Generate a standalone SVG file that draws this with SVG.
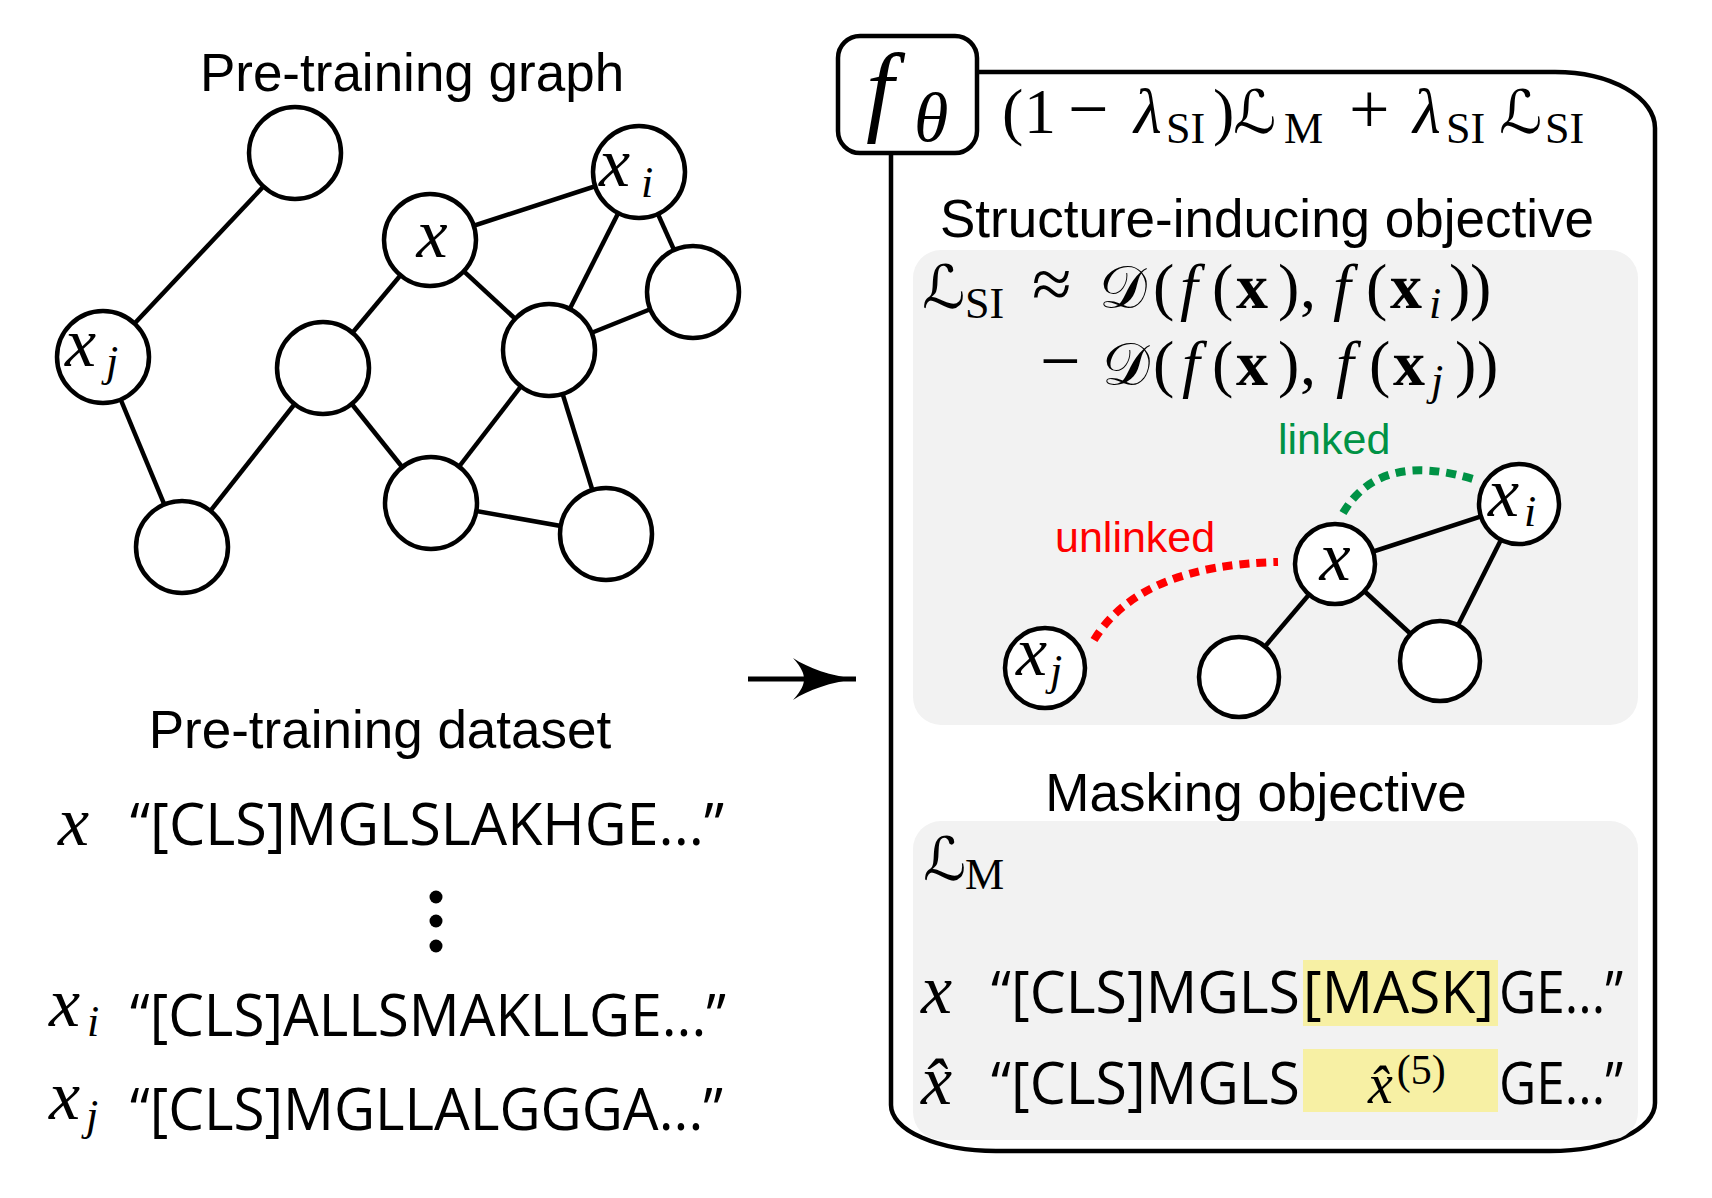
<svg xmlns="http://www.w3.org/2000/svg" width="1712" height="1198" viewBox="0 0 1712 1198">
<defs>
<style>
.node{fill:#fff;stroke:#000;stroke-width:4.5}
.edge{stroke:#000;stroke-width:4.5;fill:none}
.h{font-family:"Liberation Sans",Arial,sans-serif;font-size:53px;fill:#000}
.lbl{font-family:"Liberation Sans",Arial,sans-serif;font-size:43px}
.seq{font-family:"Open Sans","Liberation Sans",sans-serif;font-size:58px;fill:#000}
.m{font-family:"Liberation Serif","Times New Roman",serif;font-style:italic;font-size:64px;fill:#000}
.v{font-size:70px}
.r{font-family:"Liberation Serif","Times New Roman",serif;font-style:normal}
.op{font-size:72px}
.sub{font-size:44px}
.b{font-weight:bold;font-style:normal}
.cal{font-family:"DejaVu Serif","DejaVu Sans",serif;font-style:normal;font-size:60px}
.panel{fill:#f2f2f2}
.hl{fill:#f7f0a4}
</style>
<marker id="ah" viewBox="0 0 63 42" refX="63" refY="21" markerWidth="63" markerHeight="42" markerUnits="userSpaceOnUse" orient="auto">
<path d="M63,21 C38,18 15,10 0,0 C9,10 11,16 11,21 C11,26 9,32 0,42 C15,32 38,24 63,21 Z" fill="#000"/>
</marker>
</defs>

<!-- Left: pre-training graph -->
<text class="h" x="412" y="91" text-anchor="middle">Pre-training graph</text>

<g id="graph-edges" class="edge">
<line x1="295" y1="153" x2="103" y2="357"/>
<line x1="103" y1="357" x2="182" y2="547"/>
<line x1="182" y1="547" x2="323" y2="368"/>
<line x1="323" y1="368" x2="430" y2="240"/>
<line x1="430" y1="240" x2="639" y2="172"/>
<line x1="430" y1="240" x2="549" y2="350"/>
<line x1="323" y1="368" x2="431" y2="503"/>
<line x1="549" y1="350" x2="639" y2="172"/>
<line x1="639" y1="172" x2="693" y2="292"/>
<line x1="549" y1="350" x2="693" y2="292"/>
<line x1="549" y1="350" x2="431" y2="503"/>
<line x1="549" y1="350" x2="606" y2="534"/>
<line x1="431" y1="503" x2="606" y2="534"/>
</g>

<g id="g-n1"><circle class="node" cx="295" cy="153" r="46"/></g>
<g id="g-xi"><circle class="node" cx="639" cy="172" r="46"/>
<text class="m v" x="599" y="186">x</text><text class="m sub" x="641" y="197">i</text></g>
<g id="g-x"><circle class="node" cx="430" cy="240" r="46"/>
<text class="m v" x="432" y="257" text-anchor="middle">x</text></g>
<g id="g-n4"><circle class="node" cx="693" cy="292" r="46"/></g>
<g id="g-xj"><circle class="node" cx="103" cy="357" r="46"/>
<text class="m v" x="65" y="366">x</text><text class="m sub" x="106" y="376">j</text></g>
<g id="g-n6"><circle class="node" cx="323" cy="368" r="46"/></g>
<g id="g-n7"><circle class="node" cx="549" cy="350" r="46"/></g>
<g id="g-n8"><circle class="node" cx="431" cy="503" r="46"/></g>
<g id="g-n9"><circle class="node" cx="606" cy="534" r="46"/></g>
<g id="g-n10"><circle class="node" cx="182" cy="547" r="46"/></g>

<!-- Left: dataset -->
<g id="dataset">
<text class="h" x="380" y="748" text-anchor="middle">Pre-training dataset</text>
<text class="m v" x="58" y="845">x</text>
<text class="seq" x="130" y="845" textLength="594" lengthAdjust="spacingAndGlyphs">“[CLS]MGLSLAKHGE...”</text>
<circle cx="436" cy="897" r="6.5"/>
<circle cx="436" cy="921" r="6.5"/>
<circle cx="436" cy="946" r="6.5"/>
<text class="m v" x="49" y="1026">x</text><text class="m sub" x="87" y="1036">i</text>
<text class="seq" x="130" y="1036" textLength="596" lengthAdjust="spacingAndGlyphs">“[CLS]ALLSMAKLLGE...”</text>
<text class="m v" x="49" y="1119">x</text><text class="m sub" x="86" y="1130">j</text>
<text class="seq" x="130" y="1130" textLength="593" lengthAdjust="spacingAndGlyphs">“[CLS]MGLLALGGGA...”</text>
</g>

<!-- connectors -->
<g id="connectors">
<line x1="748" y1="679" x2="856" y2="679" stroke="#000" stroke-width="5" marker-end="url(#ah)"/>
</g>

<!-- Right panel -->
<g id="model">
<path d="M891,125 L891,1105 A105,46 0 0 0 996,1151 L1550,1151 A105,48 0 0 0 1655,1103 L1655,128 A100,56 0 0 0 1555,72 L940,72 A49,53 0 0 0 891,125 Z" fill="#fff" stroke="#000" stroke-width="4.5"/>
<g id="f-theta">
<rect x="838" y="36" width="139" height="117" rx="22" fill="#fff" stroke="#000" stroke-width="4.5"/>
<text class="m" x="866" y="123" style="font-size:100px">f</text>
<text class="m" x="914" y="141" style="font-size:70px">θ</text>
</g>
<text class="m" y="133">
<tspan x="1002" class="r">(</tspan><tspan x="1024" class="r">1</tspan><tspan x="1068" class="r op">−</tspan><tspan x="1134">λ</tspan><tspan x="1166" y="143" class="r sub">SI</tspan><tspan x="1213" y="133" class="r">)</tspan><tspan x="1233" class="cal">ℒ</tspan><tspan x="1284" y="143" class="r sub">M</tspan><tspan x="1349" y="133" class="r op">+</tspan><tspan x="1413">λ</tspan><tspan x="1446" y="143" class="r sub">SI</tspan><tspan x="1499" y="133" class="cal">ℒ</tspan><tspan x="1545" y="143" class="r sub">SI</tspan>
</text>
</g>

<g id="si-objective">
<text class="h" x="1267" y="237" text-anchor="middle">Structure-inducing objective</text>
<rect class="panel" x="913" y="250" width="725" height="475" rx="28"/>
<text class="m" y="308">
<tspan x="922" class="cal">ℒ</tspan><tspan x="965" y="318" class="r sub">SI</tspan><tspan x="1032" y="308" class="r op">≈</tspan><tspan x="1099" class="cal">𝒟</tspan><tspan x="1153" class="r">(</tspan><tspan x="1180">f</tspan><tspan x="1212" class="r">(</tspan><tspan x="1236" class="b">x</tspan><tspan x="1278" class="r">)</tspan><tspan x="1300" class="r">,</tspan><tspan x="1333">f</tspan><tspan x="1366" class="r">(</tspan><tspan x="1390" class="b">x</tspan><tspan x="1429" y="318" class="sub">i</tspan><tspan x="1449" y="308" class="r">)</tspan><tspan x="1470" class="r">)</tspan>
</text>
<text class="m" y="385">
<tspan x="1040" class="r op">−</tspan><tspan x="1102" class="cal">𝒟</tspan><tspan x="1153" class="r">(</tspan><tspan x="1182">f</tspan><tspan x="1212" class="r">(</tspan><tspan x="1236" class="b">x</tspan><tspan x="1278" class="r">)</tspan><tspan x="1300" class="r">,</tspan><tspan x="1336">f</tspan><tspan x="1369" class="r">(</tspan><tspan x="1393" class="b">x</tspan><tspan x="1431" y="395" class="sub">j</tspan><tspan x="1455" y="385" class="r">)</tspan><tspan x="1477" class="r">)</tspan>
</text>
<text class="lbl" x="1278" y="454" fill="#009245">linked</text>
<text class="lbl" x="1055" y="552" fill="#ff0000">unlinked</text>
<g id="si-connectors">
<path d="M1094,640 Q1140,565 1278,562" fill="none" stroke="#ff0000" stroke-width="8" stroke-dasharray="10 7"/>
<path d="M1343,513 Q1380,450 1476,480" fill="none" stroke="#009245" stroke-width="8" stroke-dasharray="10 7"/>
<line class="edge" x1="1335" y1="564" x2="1519" y2="504"/>
<line class="edge" x1="1335" y1="564" x2="1239" y2="677"/>
<line class="edge" x1="1335" y1="564" x2="1440" y2="661"/>
<line class="edge" x1="1519" y1="504" x2="1440" y2="661"/>
</g>
<g id="s-x"><circle class="node" cx="1335" cy="564" r="40"/><text class="m v" x="1335" y="580" text-anchor="middle">x</text></g>
<g id="s-xi"><circle class="node" cx="1519" cy="504" r="40"/><text class="m v" x="1488" y="516">x</text><text class="m sub" x="1524" y="526">i</text></g>
<g id="s-xj"><circle class="node" cx="1045" cy="668" r="40"/><text class="m v" x="1016" y="675">x</text><text class="m sub" x="1050" y="685">j</text></g>
<g id="s-bl"><circle class="node" cx="1239" cy="677" r="40"/></g>
<g id="s-br"><circle class="node" cx="1440" cy="661" r="40"/></g>
</g>

<g id="masking-objective">
<text class="h" x="1256" y="811" text-anchor="middle">Masking objective</text>
<rect class="panel" x="913" y="821" width="725" height="319" rx="28"/>
<text class="m" y="880"><tspan x="923" class="cal">ℒ</tspan><tspan x="965" y="889" class="r sub">M</tspan></text>
<rect class="hl" x="1303" y="960" width="195" height="66"/>
<rect class="hl" x="1303" y="1049" width="195" height="63"/>
<text class="m v" x="921" y="1013">x</text>
<text class="seq" x="991" y="1013" textLength="309" lengthAdjust="spacingAndGlyphs">“[CLS]MGLS</text>
<text class="seq" x="1303" y="1013" textLength="191" lengthAdjust="spacingAndGlyphs">[MASK]</text>
<text class="seq" x="1499" y="1013" textLength="124" lengthAdjust="spacingAndGlyphs">GE...”</text>
<text class="m v" x="921" y="1104">x̂</text>
<text class="seq" x="991" y="1104" textLength="309" lengthAdjust="spacingAndGlyphs">“[CLS]MGLS</text>
<text class="m" x="1368" y="1103" style="font-size:56px">x̂<tspan class="r" dx="4" y="1084" style="font-size:42px">(5)</tspan></text>
<text class="seq" x="1499" y="1104" textLength="124" lengthAdjust="spacingAndGlyphs">GE...”</text>
</g>
</svg>
